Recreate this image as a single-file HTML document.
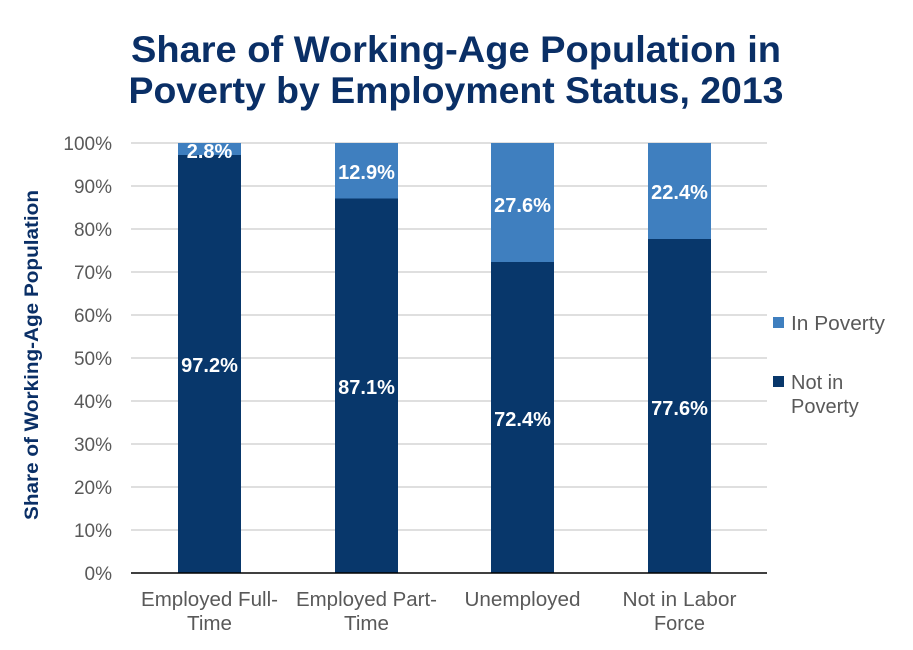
<!DOCTYPE html>
<html><head><style>body{margin:0;background:#fff}</style></head><body>
<svg width="913" height="645" xmlns="http://www.w3.org/2000/svg" font-family="Liberation Sans, Arial, sans-serif">
<text x="456" y="62" text-anchor="middle" font-size="37" font-weight="bold" fill="#0a2f66" textLength="650" lengthAdjust="spacingAndGlyphs">Share of Working-Age Population in</text>
<text x="456" y="103" text-anchor="middle" font-size="37" font-weight="bold" fill="#0a2f66" textLength="655" lengthAdjust="spacingAndGlyphs">Poverty by Employment Status, 2013</text>
<g stroke="#bfbfbf" stroke-width="1">
<line x1="131" x2="767" y1="143" y2="143"/><line x1="131" x2="767" y1="186" y2="186"/><line x1="131" x2="767" y1="229" y2="229"/><line x1="131" x2="767" y1="272" y2="272"/><line x1="131" x2="767" y1="315" y2="315"/><line x1="131" x2="767" y1="358" y2="358"/><line x1="131" x2="767" y1="401" y2="401"/><line x1="131" x2="767" y1="444" y2="444"/><line x1="131" x2="767" y1="487" y2="487"/><line x1="131" x2="767" y1="530" y2="530"/>
</g>
<g font-size="19" fill="#595959" text-anchor="end">
<text x="112" y="150">100%</text><text x="112" y="193">90%</text><text x="112" y="236">80%</text><text x="112" y="279">70%</text><text x="112" y="322">60%</text><text x="112" y="365">50%</text><text x="112" y="408">40%</text><text x="112" y="451">30%</text><text x="112" y="494">20%</text><text x="112" y="537">10%</text><text x="112" y="580">0%</text>
</g>
<text transform="translate(38,355) rotate(-90)" text-anchor="middle" font-size="19" font-weight="bold" fill="#0a2f66" textLength="330" lengthAdjust="spacingAndGlyphs">Share of Working-Age Population</text>
<g>
<rect x="178" y="143" width="63" height="430" fill="#3f7fbf"/><rect x="178" y="155" width="63" height="418" fill="#08376b"/>
<rect x="335" y="143" width="63" height="430" fill="#3f7fbf"/><rect x="335" y="198.5" width="63" height="374.5" fill="#08376b"/>
<rect x="491" y="143" width="63" height="430" fill="#3f7fbf"/><rect x="491" y="262" width="63" height="311" fill="#08376b"/>
<rect x="648" y="143" width="63" height="430" fill="#3f7fbf"/><rect x="648" y="239" width="63" height="334" fill="#08376b"/>
</g>
<line x1="131" x2="767" y1="573" y2="573" stroke="#000" stroke-width="1.5"/>
<g font-size="20" font-weight="bold" fill="#fff" text-anchor="middle">
<text x="209.5" y="158">2.8%</text><text x="209.5" y="372">97.2%</text>
<text x="366.5" y="179">12.9%</text><text x="366.5" y="394">87.1%</text>
<text x="522.5" y="212">27.6%</text><text x="522.5" y="426">72.4%</text>
<text x="679.5" y="199">22.4%</text><text x="679.5" y="415">77.6%</text>
</g>
<g font-size="20" fill="#595959" text-anchor="middle">
<text x="209.5" y="606" textLength="137" lengthAdjust="spacingAndGlyphs">Employed Full-</text><text x="209.5" y="630" textLength="45" lengthAdjust="spacingAndGlyphs">Time</text>
<text x="366.5" y="606" textLength="141" lengthAdjust="spacingAndGlyphs">Employed Part-</text><text x="366.5" y="630" textLength="45" lengthAdjust="spacingAndGlyphs">Time</text>
<text x="522.5" y="606" textLength="116" lengthAdjust="spacingAndGlyphs">Unemployed</text>
<text x="679.5" y="606" textLength="114" lengthAdjust="spacingAndGlyphs">Not in Labor</text><text x="679.5" y="630" textLength="51" lengthAdjust="spacingAndGlyphs">Force</text>
</g>
<rect x="773" y="317" width="11" height="11" fill="#3f7fbf"/>
<text x="791" y="330" font-size="20" fill="#595959" textLength="94" lengthAdjust="spacingAndGlyphs">In Poverty</text>
<rect x="773" y="376" width="11" height="11" fill="#08376b"/>
<text x="791" y="389" font-size="20" fill="#595959">Not in</text>
<text x="791" y="413" font-size="20" fill="#595959">Poverty</text>
</svg>
</body></html>
